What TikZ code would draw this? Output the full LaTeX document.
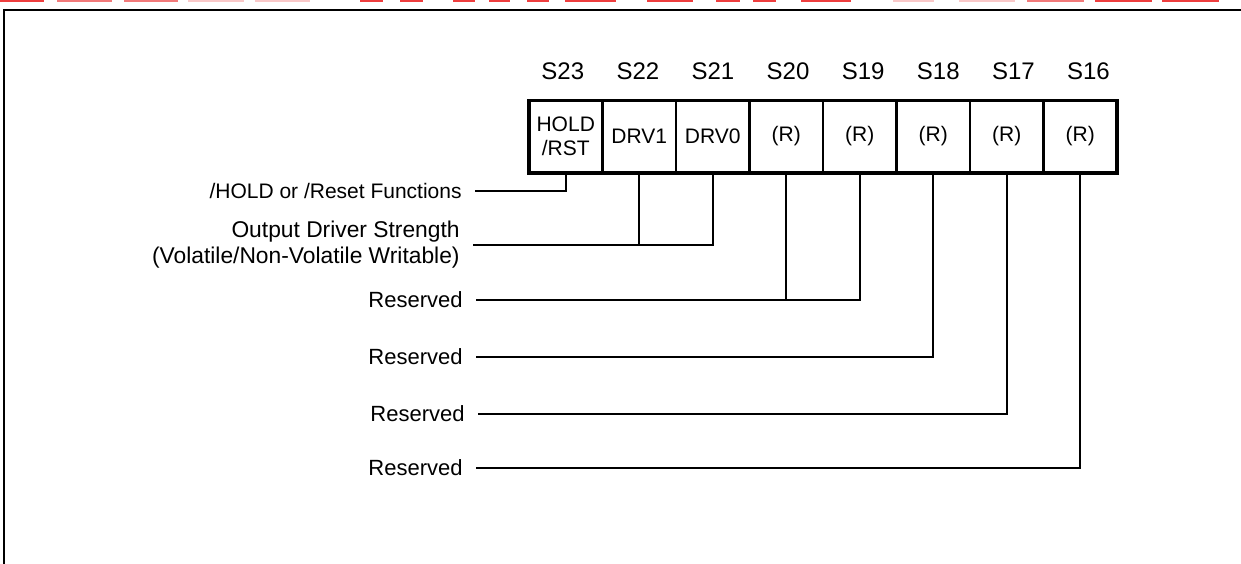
\documentclass[tikz,border=0pt]{standalone}
\usepackage{fontspec}
\setmainfont{Liberation Sans}
\usetikzlibrary{positioning}

\definecolor{wmred}{RGB}{238,62,62}
\definecolor{wmlight}{RGB}{242,122,122}
\definecolor{wmpale}{RGB}{249,200,200}

\tikzset{
	bitcell/.style={draw,line width=1.3pt,minimum width=36.75pt,minimum height=36.4pt,inner sep=0pt,outer sep=0pt,align=center,font=\fontsize{10.5}{12}\selectfont},
	bitname/.style={inner sep=0pt,font=\fontsize{12}{14}\selectfont},
	desc/.style={anchor=east,inner ysep=0pt,inner xsep=6.5pt,align=right,font=\fontsize{11.4}{13}\selectfont},
	wire/.style={line width=0.85pt}
}

\begin{document}
\begin{tikzpicture}[x=0.5pt,y=-0.5pt]
		\useasboundingbox (0,0) rectangle (1241,563);
		\foreach \a/\b/\c in {0/44/wmred,57/112/wmlight,124/178/wmlight,188/244/wmpale,255/310/wmpale,
			360/383/wmred,400/423/wmred,453/475/wmred,489/510/wmred,527/549/wmred,565/616/wmred,
			647/693/wmred,716/740/wmred,753/776/wmred,801/851/wmred,893/934/wmpale,959/1015/wmpale,
			1027/1084/wmlight,1095/1152/wmred,1162/1219/wmred}
			\fill[\c] (\a,-1) rectangle (\b,2);
		\draw[line width=1pt] (4,564) |- (1242,10);

		\foreach \n/\txt [count=\i from 0] in {23/{HOLD\\/RST},22/DRV1,21/DRV0,20/(R),19/(R),18/(R),17/(R),16/(R)}
		{
			\node[bitcell] (c\n) at (565.75+73.5*\i,136.5) {\txt};
			\node[bitname,above=10pt of c\n,xshift={0.8pt*\i-1.5pt}] (s\n) {S\n};
		}
		\draw[line width=1.6pt] (c23.north west) rectangle (c16.south east);

		\node[desc,font=\fontsize{10.5}{13}\selectfont] (fhold) at (475,191) {/HOLD or /Reset Functions};
		\node[desc] (fdrv) at (473,245) {Output Driver Strength\\(Volatile/Non-Volatile Writable)};
		\node[desc,font=\fontsize{11}{13}\selectfont] (fr20) at (476,300) {Reserved};
		\node[desc,font=\fontsize{11}{13}\selectfont] (fr18) at (476,357) {Reserved};
		\node[desc,font=\fontsize{11}{13}\selectfont] (fr17) at (478,414) {Reserved};
		\node[desc,font=\fontsize{11}{13}\selectfont] (fr16) at (476,468) {Reserved};

		\draw[wire] (fhold.east) -| (c23.south);
		\draw[wire] (fdrv.east) -| (c22.south);
		\draw[wire] (fdrv.east) -| (c21.south);
		\draw[wire] (fr20.east) -| (c20.south);
		\draw[wire] (fr20.east) -| (c19.south);
		\draw[wire] (fr18.east) -| (c18.south);
		\draw[wire] (fr17.east) -| (c17.south);
		\draw[wire] (fr16.east) -| (c16.south);
\end{tikzpicture}
\end{document}
